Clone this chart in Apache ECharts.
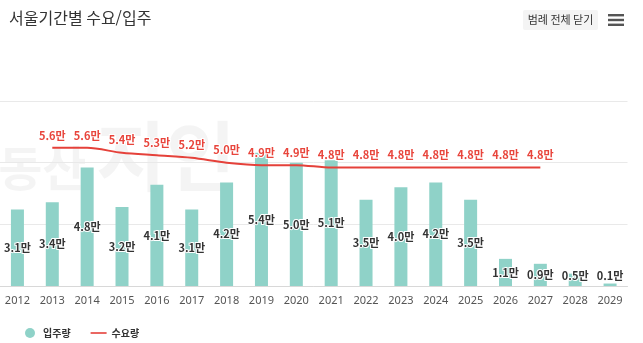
<!DOCTYPE html>
<html lang="ko">
<head>
<meta charset="utf-8">
<title>서울기간별 수요/입주</title>
<script src="https://cdn.jsdelivr.net/npm/echarts@6/dist/echarts.min.js"></script>
<style>
  html, body { margin: 0; padding: 0; background: #fff; }
  #chart { width: 643px; height: 343px; }
</style>
</head>
<body>
<div id="chart"></div>
<script>
// Years on the category axis
const years = ['2012', '2013', '2014', '2015', '2016', '2017', '2018', '2019', '2020',
  '2021', '2022', '2023', '2024', '2025', '2026', '2027', '2028', '2029'];

// 입주량 (housing supply), in 만 units
const supply = [3.1, 3.4, 4.8, 3.2, 4.1, 3.1, 4.2, 5.4, 5.0, 5.1, 3.5, 4.0, 4.2, 3.5, 1.1, 0.9, 0.5, 0.1];

// 수요량 (demand), in 만 units; no figure for 2012 or after 2027
const demand = [null, 5.6, 5.6, 5.4, 5.3, 5.2, 5.0, 4.9, 4.9, 4.8, 4.8, 4.8, 4.8, 4.8, 4.8, 4.8, null, null];

const fmt = v => v.toFixed(1) + '만';
const FONT = '"Noto Sans CJK KR", "Noto Sans", sans-serif';

const chart = echarts.init(document.getElementById('chart'), null, { renderer: 'canvas' });

chart.setOption({
  animation: false,
  textStyle: { fontFamily: FONT },
  title: {
    text: '서울기간별 수요/입주',
    left: 4,
    top: 5,
    textStyle: { fontSize: 16, fontWeight: 'normal', color: '#333', fontFamily: FONT }
  },
  graphic: [
    // faint brand watermark behind the plot
    { type: 'text', left: -46, top: 144, z: -1, silent: true,
      style: { text: '부동산', fontSize: 48, fontWeight: 'bold', fill: 'rgba(0,0,0,0.045)', fontFamily: FONT } },
    { type: 'text', left: 96, top: 118, z: -1, silent: true,
      style: { text: '지인', fontSize: 76, fontWeight: 'bold', fill: 'rgba(0,0,0,0.045)', fontFamily: FONT } },
    // "close all legends" button
    { type: 'group', left: 523, top: 10, children: [
      { type: 'rect', shape: { x: 0, y: 0, width: 75, height: 20, r: 2 }, style: { fill: '#f4f4f4' } },
      { type: 'text', x: 37.5, y: 10, style: { text: '범례 전체 닫기', fontSize: 11, fill: '#333',
        align: 'center', verticalAlign: 'middle', fontFamily: FONT } }
    ] },
    // menu icon
    { type: 'group', left: 608, top: 14, children: [
      { type: 'rect', shape: { x: 0, y: 0, width: 16, height: 2.4 }, style: { fill: '#555' } },
      { type: 'rect', shape: { x: 0, y: 4.8, width: 16, height: 2.4 }, style: { fill: '#555' } },
      { type: 'rect', shape: { x: 0, y: 9.6, width: 16, height: 2.4 }, style: { fill: '#555' } }
    ] }
  ],
  legend: {
    left: 20,
    top: 323,
    itemGap: 20,
    itemWidth: 16,
    itemHeight: 10,
    textStyle: { fontSize: 10, fontWeight: 'bold', color: '#333', fontFamily: FONT },
    data: [
      { name: '입주량', icon: 'circle', itemStyle: { color: '#8fd2c8' } },
      { name: '수요량', icon: 'path://M0,4.2 L16,4.2 L16,5.8 L0,5.8 Z', itemStyle: { color: '#e5413a' } }
    ]
  },
  grid: { left: -11.5, right: 15.5, top: 101, bottom: 57, containLabel: false },
  xAxis: {
    type: 'category',
    data: years,
    axisLine: { lineStyle: { color: '#d8d8d8' } },
    axisTick: { show: false },
    axisLabel: { color: '#555', fontSize: 11, margin: 9, fontFamily: '"Noto Sans", sans-serif' }
  },
  yAxis: {
    type: 'value',
    min: 0,
    max: 7.5,
    interval: 2.5,
    axisLabel: { show: false },
    axisLine: { show: false },
    axisTick: { show: false },
    splitLine: { lineStyle: { color: '#e9e9e9' } }
  },
  series: [
    {
      name: '입주량',
      type: 'bar',
      data: supply,
      barWidth: 13,
      itemStyle: { color: '#8fd2c8' },
      label: {
        show: true,
        position: 'inside',
        formatter: p => fmt(p.value),
        color: '#333',
        fontSize: 11,
        fontWeight: 'bold',
        textBorderColor: '#fff',
        textBorderWidth: 2,
        fontFamily: FONT
      },
      // keep labels of very short bars clear of the axis line
      labelLayout: params => {
        const r = params.labelRect;
        const cy = r.y + r.height / 2;
        if (cy <= 276) return {};
        return { x: r.x + r.width / 2, y: 276, align: 'center', verticalAlign: 'middle' };
      }
    },
    {
      name: '수요량',
      type: 'line',
      data: demand,
      smooth: 0.3,
      symbol: 'circle',
      symbolSize: 0,
      connectNulls: false,
      lineStyle: { color: '#e5413a', width: 2 },
      itemStyle: { color: '#e5413a' },
      z: 3,
      label: {
        show: true,
        position: 'top',
        distance: 7,
        formatter: p => (p.value == null ? '' : fmt(p.value)),
        color: '#e8453c',
        fontSize: 11,
        fontWeight: 'bold',
        textBorderColor: '#fff',
        textBorderWidth: 2,
        fontFamily: FONT
      }
    }
  ]
});
</script>
</body>
</html>
